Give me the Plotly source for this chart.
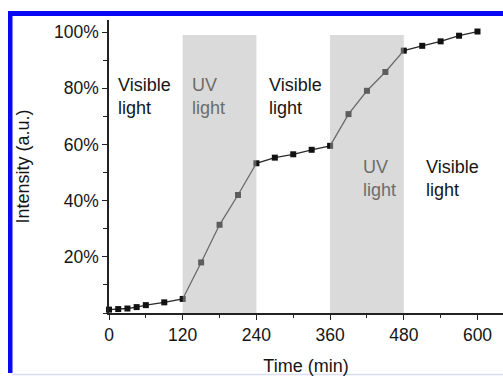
import plotly.graph_objects as go

# Data
time_min = [0, 15, 30, 45, 60, 90, 120, 150, 180, 210, 240, 270, 300, 330, 360,
            390, 420, 450, 480, 510, 540, 570, 600]
intensity = [1.2, 1.4, 1.6, 2.1, 2.8, 3.8, 5.0, 18.0, 31.4, 42.0, 53.3, 55.3, 56.5,
             58.1, 59.5, 70.8, 79.1, 85.8, 93.4, 95.1, 96.7, 98.7, 100.2]
uv_periods = [(120, 240), (360, 480)]
x_ticks = [0, 120, 240, 360, 480, 600]
y_ticks = [20, 40, 60, 80, 100]
y_tick_labels = ["20%", "40%", "60%", "80%", "100%"]
labels = [
    ("Visible<br>light", 12, 77, "#151515"),
    ("UV<br>light", 132, 77, "#6c6c6c"),
    ("Visible<br>light", 257, 77, "#151515"),
    ("UV<br>light", 410, 48, "#6c6c6c"),
    ("Visible<br>light", 513, 48, "#151515"),
]

FONT = "Liberation Sans, Arial, sans-serif"
W, H = 503, 377
L, R, T, B = 109, 0, 20, 64
pw, ph = W - L - R, H - T - B

def px_x(p):
    return (p - L) / pw

def px_y(p):
    return (H - B - p) / ph

fig = go.Figure()
fig.add_trace(go.Scatter(
    x=time_min, y=intensity, mode="lines+markers",
    line=dict(color="#2a2a2a", width=1.3),
    marker=dict(symbol="square", size=6, color="#111111"),
    showlegend=False, cliponaxis=False,
))

shapes = []
for a, b in uv_periods:
    shapes.append(dict(type="rect", xref="x", yref="y", x0=a, x1=b, y0=0, y1=99,
                       fillcolor="rgb(177,177,177)", opacity=0.48,
                       line=dict(width=0), layer="above"))
# blue frame (left and top bars)
shapes.append(dict(type="rect", xref="paper", yref="paper",
                   x0=px_x(8), x1=px_x(12.5), y0=px_y(373), y1=px_y(11),
                   fillcolor="#0808f5", line=dict(width=0), layer="above"))
shapes.append(dict(type="rect", xref="paper", yref="paper",
                   x0=px_x(8), x1=px_x(503), y0=px_y(16), y1=px_y(11),
                   fillcolor="#0808f5", line=dict(width=0), layer="above"))
shapes.append(dict(type="line", xref="paper", yref="paper",
                   x0=px_x(12), x1=px_x(503), y0=px_y(374.5), y1=px_y(374.5),
                   line=dict(color="#dcdcf8", width=1.5), layer="above"))

annotations = []
for text, x, y, col in labels:
    annotations.append(dict(text=text, x=x, y=y, xref="x", yref="y",
                            xanchor="left", yanchor="middle", align="left",
                            showarrow=False,
                            font=dict(family=FONT, size=18, color=col)))

fig.update_layout(
    width=W, height=H,
    margin=dict(l=L, r=R, t=T, b=B),
    paper_bgcolor="white", plot_bgcolor="white",
    shapes=shapes, annotations=annotations,
    font=dict(family=FONT, size=17.5, color="#151515"),
)
fig.update_xaxes(
    range=[0, (W - L) / ((478 - 109.5) / 600)],
    tickvals=x_ticks, ticks="outside", ticklen=5, tickwidth=1.3, tickcolor="#222",
    showline=True, linecolor="#222", linewidth=1.5, showgrid=False, zeroline=False,
    minor=dict(tickvals=[60, 180, 300, 420, 540], ticks="outside", ticklen=3,
               tickcolor="#222", tickwidth=1.2, showgrid=False),
    title=dict(text="Time (min)", font=dict(family=FONT, size=18), standoff=16),
    tickfont=dict(family=FONT, size=17.5, color="#151515"),
)
fig.update_yaxes(
    range=[0, 104.3],
    tickvals=y_ticks, ticktext=y_tick_labels, ticks="outside", ticklen=5,
    tickwidth=1.3, tickcolor="#222",
    showline=True, linecolor="#222", linewidth=1.5, showgrid=False, zeroline=False,
    minor=dict(tickvals=[0, 10, 30, 50, 70, 90], ticks="outside", ticklen=4,
               tickcolor="#222", tickwidth=1.2, showgrid=False),
    title=dict(text="Intensity (a.u.)", font=dict(family=FONT, size=18), standoff=20),
    tickfont=dict(family=FONT, size=17.5, color="#151515"),
)

fig.write_html("out.html")
